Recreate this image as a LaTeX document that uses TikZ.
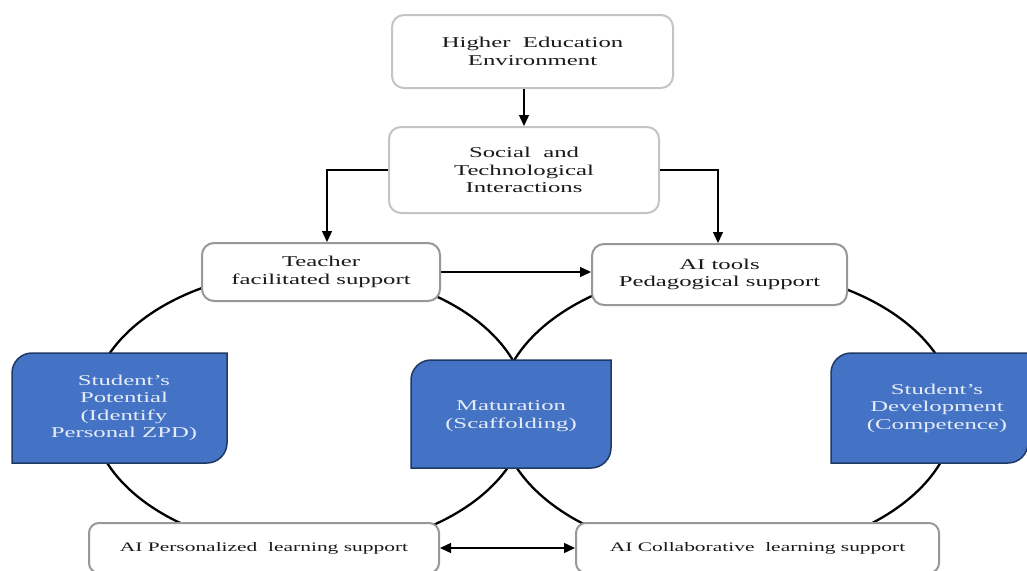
\documentclass[tikz,border=0pt]{standalone}
\usepackage{fontspec}
\setmainfont{Liberation Serif}[FakeStretch=1.65]
\usetikzlibrary{arrows.meta}
\definecolor{boxgray}{HTML}{989898}
\definecolor{lightgray}{HTML}{C4C4C4}
\definecolor{bluefill}{HTML}{4472C4}
\definecolor{blueedge}{HTML}{203864}
\definecolor{bluetext}{HTML}{E6ECF7}
\definecolor{txt}{HTML}{1A1A1A}
\begin{document}
\begin{tikzpicture}[x=1pt,y=-1pt,
  gbox/.style={draw=boxgray, line width=2pt, rounded corners=12pt, fill=white, align=center,
    inner sep=0pt, text=txt, font=\fontsize{15}{17.5}\selectfont},
  tbox/.style={gbox, draw=lightgray},
  lbox/.style={gbox, rounded corners=10pt, font=\fontsize{13}{15}\selectfont},
  btext/.style={align=center, text=bluetext, inner sep=0pt, font=\fontsize{15}{17.5}\selectfont},
  bshape/.style={fill=bluefill, draw=blueedge, line width=1.5pt},
  arr/.style={line width=1.4pt, -{Triangle[length=11pt,width=10pt]}},
  dblarr/.style={line width=1.4pt, {Triangle[length=11pt,width=10pt]}-{Triangle[length=11pt,width=10pt]}},
  ring/.style={line width=2.3pt}]
\clip (0,0) rectangle (1027,570);
\fill[white] (0,0) rectangle (1027,570);
% rings
\draw[ring] (309,410) ellipse [x radius=218, y radius=140];
\draw[ring] (727,412) ellipse [x radius=228, y radius=144];
% top boxes
\node[tbox, minimum width=281pt, minimum height=73pt] (he) at (532.5,51.5) {Higher~ Education\\Environment};
\node[tbox, minimum width=270pt, minimum height=86pt] (soc) at (524,170) {Social~ and\\Technological\\Interactions};
\node[gbox, minimum width=238pt, minimum height=58pt] (teach) at (321,272) {Teacher\\facilitated support};
\node[gbox, minimum width=255pt, minimum height=61pt] (ait) at (719.5,274.5) {AI tools\\Pedagogical support};
% bottom boxes
\node[lbox, minimum width=350pt, minimum height=50pt] (pers) at (264,548) {AI Personalized~ learning support};
\node[lbox, minimum width=363pt, minimum height=50pt] (col) at (757.5,548) {AI Collaborative~ learning support};
% blue boxes
\path[bshape] (32,353) -- (227,353) -- (227,443) .. controls (227,454) and (218,463) .. (207,463) -- (12,463) -- (12,373) .. controls (12,362) and (21,353) .. cycle;
\path[bshape] (431,360) -- (611,360) -- (611,448) .. controls (611,459) and (602,468) .. (591,468) -- (411,468) -- (411,380) .. controls (411,369) and (420,360) .. cycle;
\path[bshape] (851,353) -- (1028,353) -- (1028,443) .. controls (1028,454) and (1019,463) .. (1008,463) -- (831,463) -- (831,373) .. controls (831,362) and (840,353) .. cycle;
\node[btext] (pot) at (124,408) {Student’s\\Potential\\(Identify\\Personal ZPD)};
\node[btext] (mat) at (511,416) {Maturation\\(Scaffolding)};
\node[btext] (dev) at (937,408) {Student’s\\Development\\(Competence)};
% connectors
\draw[arr] (soc.north |- he.south) -- (soc.north);
\draw[arr] (soc.west) -| ([xshift=6pt]teach.north);
\draw[arr] (soc.east) -| ([xshift=-1.5pt]ait.north);
\draw[arr] (teach.east) -- (teach.east -| ait.west);
\draw[dblarr] (pers.east) -- (col.west);
\end{tikzpicture}
\end{document}
